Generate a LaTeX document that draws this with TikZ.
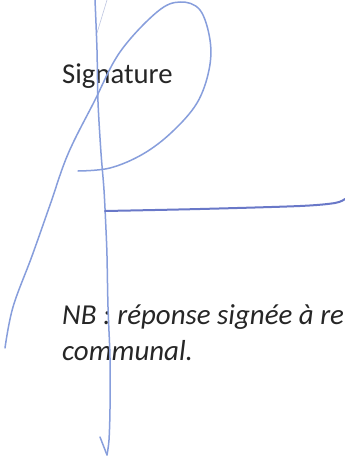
\documentclass[tikz,border=0pt]{standalone}
\usepackage{fontspec}
\setmainfont{Carlito}
\definecolor{sigblue}{RGB}{135,158,220}
\definecolor{sigdark}{RGB}{105,120,200}
\definecolor{faint}{RGB}{190,198,225}
\tikzset{
  pen/.style={draw=sigblue, line width=1.5pt, line cap=round, line join=round},
  penbold/.style={draw=sigdark, line width=2pt, line cap=round},
  txt/.style={anchor=base west, inner sep=0pt, text=black!85, font=\fontsize{28.7}{36}\selectfont},
  itxt/.style={txt, font=\fontsize{28.9}{36}\selectfont\itshape}
}
\begin{document}
\begin{tikzpicture}[x=1pt,y=-1pt]
\useasboundingbox (0,0) rectangle (345,460);
\fill[white] (0,0) rectangle (345,460);
\begin{scope}
\clip (0,0) rectangle (345,460);
% texts
\node[txt] (sig) at (62,83) {Signature};
\node[itxt] (nb) at (62,324) {NB : réponse signée à re};
\node[itxt] (com) at (62,360) {communal.};
% faint thin stroke
\draw[faint, line width=0.6pt] (107,0) -- (97,33);
% main looped stroke
\draw[pen] plot[smooth, tension=0.6] coordinates {
  (5,348) (13,307) (32,256) (50,205) (68,154) (94,102) (120,52) (157,12)
  (180,2) (200,10) (210,40) (209,70) (197,103) (172,132) (143,154) (110,168) (78,171)};
% vertical stroke with hook
\draw[pen] plot[smooth, tension=0.5] coordinates {
  (95,0) (97,50) (98,102) (101,153) (104,190) (106,230) (107,256) (108,307)
  (110,358) (110,409) (109,440) (107,455)};
\draw[pen] (100,437) -- (107,455);
% horizontal stroke
\draw[penbold] plot[smooth, tension=0.5] coordinates {
  (105,211) (200,209) (300,206) (335,203) (345,199)};
\end{scope}
\end{tikzpicture}
\end{document}
